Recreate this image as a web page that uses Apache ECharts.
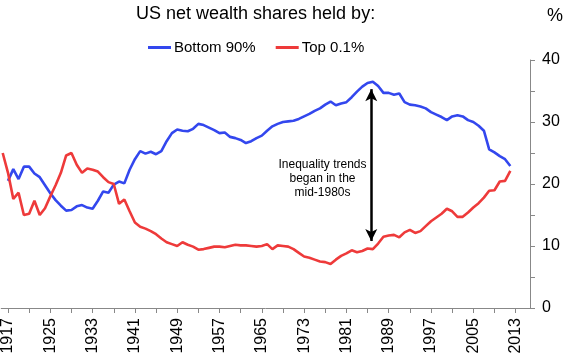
<!DOCTYPE html>
<html>
<head>
<meta charset="utf-8">
<script src="https://cdn.jsdelivr.net/npm/echarts@6/dist/echarts.min.js"></script>
<style>html,body{margin:0;padding:0;background:#fff}#c{width:568px;height:359px}</style>
</head>
<body>
<div id="c"></div>
<script>
var years = [1916,1917,1918,1919,1920,1921,1922,1923,1924,1925,1926,1927,1928,1929,1930,1931,1932,1933,1934,1935,1936,1937,1938,1939,1940,1941,1942,1943,1944,1945,1946,1947,1948,1949,1950,1951,1952,1953,1954,1955,1956,1957,1958,1959,1960,1961,1962,1963,1964,1965,1966,1967,1968,1969,1970,1971,1972,1973,1974,1975,1976,1977,1978,1979,1980,1981,1982,1983,1984,1985,1986,1987,1988,1989,1990,1991,1992,1993,1994,1995,1996,1997,1998,1999,2000,2001,2002,2003,2004,2005,2006,2007,2008,2009,2010,2011,2012];
var bottom90 = [null,20.5,22.4,20.8,22.8,22.8,21.7,21.1,19.8,18.5,17.4,16.5,15.7,15.8,16.4,16.6,16.2,16.0,17.3,18.8,18.6,19.9,20.4,20.1,22.3,24.0,25.3,24.9,25.2,24.8,25.3,26.9,28.2,28.8,28.6,28.5,28.9,29.7,29.5,29.1,28.7,28.2,28.3,27.6,27.4,27.1,26.6,26.9,27.4,27.8,28.6,29.3,29.7,30.0,30.1,30.2,30.5,30.9,31.3,31.8,32.2,32.8,33.3,32.7,33.0,33.2,34.0,34.9,35.7,36.3,36.5,35.8,34.7,34.7,34.4,34.6,33.2,32.8,32.7,32.5,32.2,31.6,31.2,30.8,30.3,30.9,31.1,30.9,30.3,30.0,29.4,28.6,25.6,25.1,24.5,24.0,22.9];
var top01 = [25.0,21.8,17.6,18.6,15.0,15.2,17.3,15.0,16.1,18.0,19.8,21.8,24.6,25.0,23.1,21.8,22.5,22.3,22.0,21.1,20.3,20.0,16.8,17.5,15.6,13.8,13.1,12.8,12.4,11.9,11.2,10.6,10.3,10.0,10.6,10.2,9.9,9.4,9.5,9.7,9.9,9.9,9.8,10.0,10.2,10.1,10.1,10.0,9.9,10.0,10.3,9.5,10.1,10.0,9.9,9.5,8.9,8.3,8.1,7.8,7.5,7.4,7.1,7.8,8.4,8.8,9.3,9.0,9.2,9.6,9.5,10.4,11.5,11.7,11.8,11.4,12.2,12.6,12.1,12.4,13.2,14.0,14.6,15.2,16.0,15.6,14.7,14.7,15.4,16.2,16.9,17.8,18.9,19.0,20.4,20.5,22.1];
var xLabelYears = [1917,1925,1933,1941,1949,1957,1965,1973,1981,1989,1997,2005,2013];
var xTickYears = [1917,1921,1925,1929,1933,1937,1941,1945,1949,1953,1957,1961,1965,1969,1973,1977,1981,1985,1989,1993,1997,2001,2005,2009,2013];
var arrowYear = 1985.7, arrowTop = 35.3, arrowBottom = 10.8;

var FONT = 'Liberation Sans, Arial, Helvetica, sans-serif';
function pairs(vals){ var out=[]; for (var i=0;i<years.length;i++){ if (vals[i]!==null) out.push([years[i], vals[i]]); } return out; }

var chart = echarts.init(document.getElementById('c'), null, {renderer:'canvas'});
chart.setOption({
  animation: false,
  textStyle: {fontFamily: FONT},
  title: {
    text: 'US net wealth shares held by:',
    left: 136, top: 5, padding: 0,
    textStyle: {fontSize: 18, fontWeight: 'normal', color: '#000', fontFamily: FONT}
  },
  legend: {
    left: 148, top: 40, padding: 0,
    icon: 'rect', itemWidth: 23, itemHeight: 3, itemGap: 20,
    textStyle: {fontSize: 15, color: '#000', fontFamily: FONT, padding: [0,0,0,-2]},
    data: ['Bottom 90%', 'Top 0.1%']
  },
  graphic: [
    {type: 'text', left: 547, top: 7, style: {text: '%', font: '18px ' + FONT, fill: '#000'}},
    {type: 'text', x: 322.5, y: 158, style: {text: 'Inequality trends\nbegan in the\nmid-1980s', font: '12px ' + FONT, fill: '#000', textAlign: 'center', lineHeight: 14}}
  ],
  grid: {left: 0, right: 38, top: 60, bottom: 51, containLabel: false},
  xAxis: {
    type: 'value', min: 1915.72, max: 2015.72,
    axisLine: {show: true, lineStyle: {color: '#888', width: 1}},
    axisTick: {show: true, length: 5, lineStyle: {color: '#888'}, customValues: xTickYears},
    axisLabel: {rotate: 90, fontSize: 16, color: '#000', margin: 10, customValues: xLabelYears, fontFamily: FONT,
      formatter: function (v) { return String(Math.round(v)); }},
    splitLine: {show: false}
  },
  yAxis: {
    type: 'value', position: 'right', min: 0, max: 40, interval: 10,
    axisLine: {show: true, lineStyle: {color: '#888', width: 1}},
    axisTick: {show: true, length: 5, lineStyle: {color: '#888'}},
    minorTick: {show: true, splitNumber: 2, length: 5, lineStyle: {color: '#888'}},
    axisLabel: {fontSize: 16, color: '#000', margin: 12, fontFamily: FONT},
    splitLine: {show: false}
  },
  series: [
    {
      name: 'Bottom 90%', type: 'line', data: pairs(bottom90), showSymbol: false, symbol: 'none',
      lineStyle: {color: '#3347EE', width: 2.6}, itemStyle: {color: '#3347EE'},
      markLine: {
        silent: true, symbol: ['arrow', 'arrow'], symbolSize: [9, 12],
        label: {show: false},
        lineStyle: {color: '#000', width: 2.5, type: 'solid'},
        data: [[{coord: [arrowYear, arrowTop]}, {coord: [arrowYear, arrowBottom]}]]
      }
    },
    {
      name: 'Top 0.1%', type: 'line', data: pairs(top01), showSymbol: false, symbol: 'none',
      lineStyle: {color: '#EE3A3A', width: 2.6}, itemStyle: {color: '#EE3A3A'}
    }
  ]
});
</script>
</body>
</html>
